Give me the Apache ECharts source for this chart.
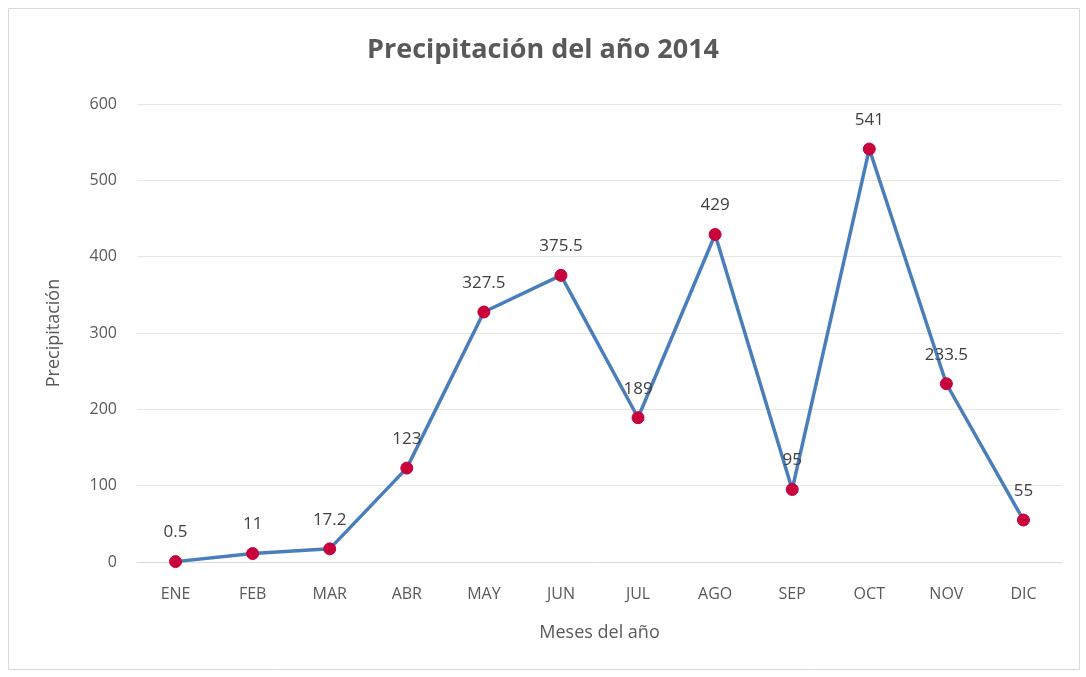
<!DOCTYPE html>
<html>
<head>
<meta charset="utf-8">
<script src="https://cdn.jsdelivr.net/npm/echarts@6/dist/echarts.min.js"></script>
<style>
  html, body { margin: 0; padding: 0; background: #fff; }
  #chart { width: 1086px; height: 677px; }
</style>
</head>
<body>
<div id="chart"></div>
<script>
// datos del gráfico
var meses = ['ENE', 'FEB', 'MAR', 'ABR', 'MAY', 'JUN', 'JUL', 'AGO', 'SEP', 'OCT', 'NOV', 'DIC'];
var precipitacion = [0.5, 11, 17.2, 123, 327.5, 375.5, 189, 429, 95, 541, 233.5, 55];
var yTicks = [0, 100, 200, 300, 400, 500, 600];

;(function () {
  var myChart = echarts.init(document.querySelector('#chart'));
  var fuente = 'Open Sans';

  var option = {
    backgroundColor: '#fff',
    textStyle: { fontFamily: fuente },
    // marco exterior
    graphic: [{
      type: 'rect',
      shape: { x: 8.5, y: 8.5, width: 1071, height: 661 },
      style: { fill: 'none', stroke: '#d9d9d9', lineWidth: 1 },
      silent: true
    }],
    title: {
      text: 'Precipitación del año 2014',
      left: 'center',
      top: 32,
      textStyle: { fontSize: 27, fontWeight: 'bold', color: '#595959', fontFamily: fuente }
    },
    grid: { left: 137, right: 24, top: 104, bottom: 115 },
    xAxis: {
      type: 'category',
      data: meses,
      name: 'Meses del año',
      nameLocation: 'middle',
      nameGap: 62,
      nameTextStyle: { fontSize: 18, color: '#595959' },
      axisLine: { lineStyle: { color: '#d9d9d9' } },
      axisTick: { show: false },
      axisLabel: { fontSize: 16, color: '#595959', margin: 24 }
    },
    yAxis: {
      type: 'value',
      min: yTicks[0],
      max: yTicks[yTicks.length - 1],
      interval: 100,
      name: 'Precipitación',
      nameLocation: 'middle',
      nameGap: 74,
      nameTextStyle: { fontSize: 18, color: '#595959' },
      axisLine: { show: false },
      axisTick: { show: false },
      axisLabel: { fontSize: 16, color: '#595959', margin: 20 },
      splitLine: { lineStyle: { color: '#e6e6e6', width: 1 } }
    },
    series: [{
      type: 'line',
      data: precipitacion,
      symbol: 'circle',
      symbolSize: 12,
      lineStyle: { color: '#4a7ebb', width: 3.5 },
      itemStyle: { color: '#c8003c', borderColor: '#c8003c' },
      label: {
        show: true,
        position: 'top',
        distance: 14,
        fontSize: 17,
        color: '#404040'
      },
      z: 3
    }]
  };

  myChart.setOption(option);
  window.addEventListener('resize', function () {
    myChart.resize();
  });
})();
</script>
</body>
</html>
